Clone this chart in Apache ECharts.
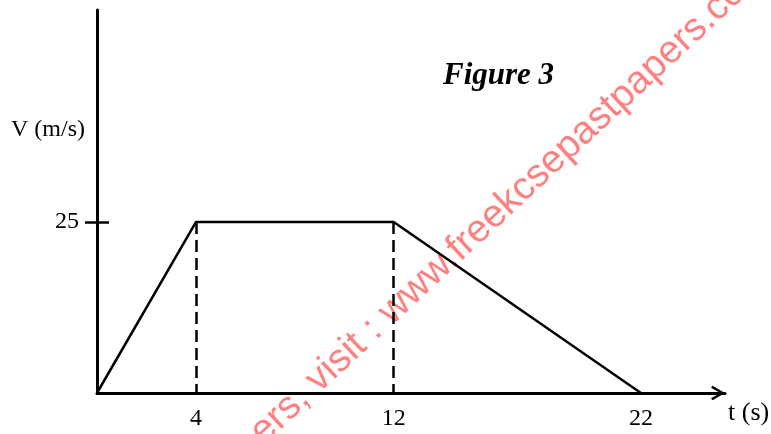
<!DOCTYPE html>
<html lang="en">
<head>
<meta charset="UTF-8">
<title>Figure 3</title>
<style type="text/css">
    body { margin: 0; background-color: #fff; }
    #chart { width: 771px; height: 434px; }
</style>
</head>
<body>
<div id="chart"></div>
<script src="https://cdn.jsdelivr.net/npm/echarts@6.0.0/dist/echarts.min.js"></script>
<script type="text/javascript">
// velocity-time graph data
var times = [0, 4, 12, 22];        // t (s)
var velocity = [0, 25, 25, 0];     // V (m/s)
var xTickLabels = [4, 12, 22];
var yTickLabels = [25];
var dashedAt = [1, 2];             // points dropped to the t axis

var serif = '"Liberation Serif", "DejaVu Serif", serif';

function initChart() {
    var myChart = echarts.init(document.getElementById('chart'));

    var points = [];
    for (var i = 0; i < times.length; i++) {
        points.push([times[i], velocity[i]]);
    }
    var drops = [];
    for (var j = 0; j < dashedAt.length; j++) {
        var k = dashedAt[j];
        drops.push([{ coord: [times[k], velocity[k]] }, { coord: [times[k], 0] }]);
    }

    var option = {
        animation: false,
        grid: { left: 97, right: 46, top: 10, bottom: 41 },
        xAxis: {
            type: 'value',
            min: 0,
            max: 25.4,
            axisLine: {
                lineStyle: { color: '#000', width: 3 },
                symbol: ['none', 'path://M7,0 L14,12 L12,13.5 L7,4.5 L2,13.5 L0,12 Z'],
                symbolSize: [17, 14],
                symbolOffset: [0, -7]
            },
            axisTick: { show: false },
            splitLine: { show: false },
            axisLabel: {
                customValues: xTickLabels,
                margin: 14,
                color: '#000',
                fontFamily: serif,
                fontSize: 24
            }
        },
        yAxis: [
            {
                type: 'value',
                min: 0,
                max: 56,
                axisLine: { lineStyle: { color: '#000', width: 3 } },
                axisTick: {
                    customValues: yTickLabels,
                    length: 12,
                    lineStyle: { color: '#000', width: 2.5 }
                },
                splitLine: { show: false },
                axisLabel: {
                    customValues: yTickLabels,
                    margin: 18,
                    padding: [6, 0, 0, 0],
                    color: '#000',
                    fontFamily: serif,
                    fontSize: 24
                }
            },
            {
                // second copy only for the inner half of the tick
                type: 'value',
                position: 'left',
                min: 0,
                max: 56,
                axisLine: { show: false },
                axisTick: {
                    inside: true,
                    customValues: yTickLabels,
                    length: 12,
                    lineStyle: { color: '#000', width: 2.5 }
                },
                splitLine: { show: false },
                axisLabel: { show: false }
            }
        ],
        series: [
            {
                type: 'line',
                data: points,
                symbol: 'none',
                lineStyle: { color: '#000', width: 2.5 },
                markLine: {
                    silent: true,
                    symbol: 'none',
                    label: { show: false },
                    lineStyle: { color: '#000', width: 2.5, type: [12, 6] },
                    data: drops
                }
            }
        ],
        graphic: [
            {
                type: 'text', x: 443, y: 76,
                style: { text: 'Figure 3', font: 'italic bold 31px ' + serif, fill: '#000', textVerticalAlign: 'middle' }
            },
            {
                type: 'text', x: 11, y: 130,
                style: { text: 'V (m/s)', font: '24px ' + serif, fill: '#000', textVerticalAlign: 'middle' }
            },
            {
                type: 'text', x: 728, y: 413,
                style: { text: 't (s)', font: '26px ' + serif, fill: '#000', textVerticalAlign: 'middle' }
            },
            {
                // watermark
                type: 'group', x: 325, y: 400, rotation: 0.75, z: 100,
                children: [
                    {
                        type: 'text', x: 0, y: 0,
                        style: { text: 'For more free past papers, ', font: '39px "Liberation Sans", Arial, sans-serif', fill: '#ff8080', textAlign: 'right', textVerticalAlign: 'bottom' }
                    },
                    {
                        type: 'text', x: 0, y: 0,
                        style: { text: 'visit : www.freekcsepastpapers.com', font: '39px "Liberation Sans", Arial, sans-serif', fill: '#ff8080', textAlign: 'left', textVerticalAlign: 'bottom' }
                    }
                ]
            }
        ]
    };
    myChart.setOption(option);
}
initChart();
</script>
</body>
</html>
